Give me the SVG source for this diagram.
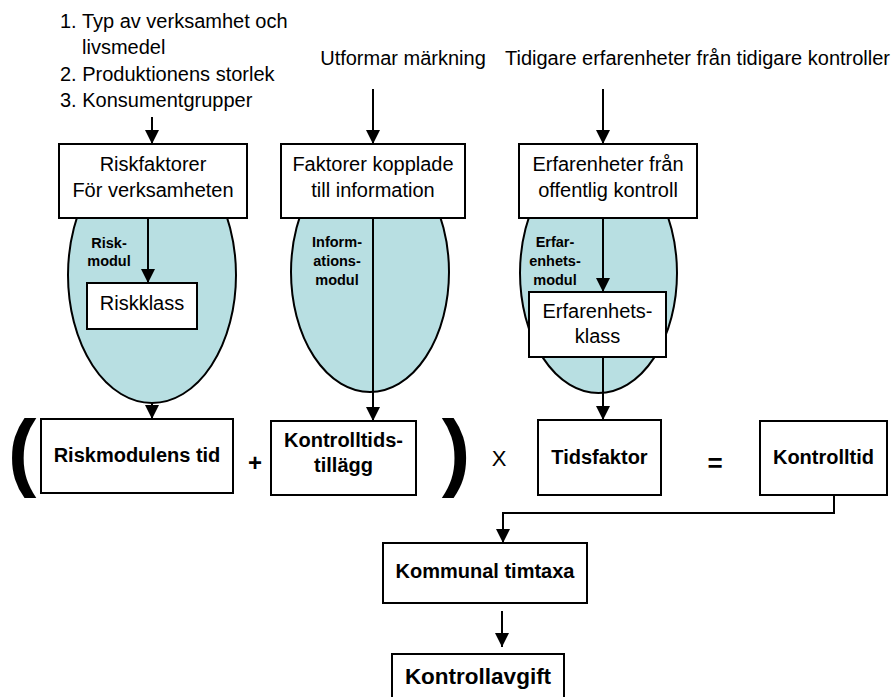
<svg xmlns="http://www.w3.org/2000/svg" width="892" height="697" viewBox="0 0 892 697">
<defs>
<marker id="ah" markerUnits="userSpaceOnUse" markerWidth="14" markerHeight="14" refX="14" refY="7" orient="auto">
<path d="M0,0 L14,7 L0,14 Z" fill="#000"/>
</marker>
<style>
text{font-family:"Liberation Sans",Arial,sans-serif;fill:#000}
.t{font-size:20px}
.c{text-anchor:middle}
.b{font-weight:bold}
.m{font-size:14.5px;font-weight:bold;text-anchor:middle}
.box{fill:#fff;stroke:#000;stroke-width:2}
.mod{fill:#B8DFE2;stroke:#000;stroke-width:2}
.ln{fill:none;stroke:#000;stroke-width:2}
.ar{fill:none;stroke:#000;stroke-width:2;marker-end:url(#ah)}
</style>
</defs>
<rect width="892" height="697" fill="#fff"/>

<g id="inputs">
<text class="t" x="60" y="28">1. Typ av verksamhet och</text>
<text class="t" x="82" y="54">livsmedel</text>
<text class="t" x="60" y="81">2. Produktionens storlek</text>
<text class="t" x="60" y="107">3. Konsumentgrupper</text>
<text class="t c" x="403" y="65">Utformar märkning</text>
<text class="t" x="505" y="65">Tidigare erfarenheter från tidigare kontroller</text>
</g>

<g id="riskmodul">
<ellipse class="mod" cx="152" cy="275" rx="84" ry="128"/>
<text class="m" x="109" y="248">Risk-</text>
<text class="m" x="109" y="266">modul</text>
</g>
<g id="informationsmodul">
<ellipse class="mod" cx="370" cy="272" rx="79" ry="120"/>
<text class="m" x="337" y="247">Inform-</text>
<text class="m" x="337" y="266">ations-</text>
<text class="m" x="337" y="285">modul</text>
</g>
<g id="erfarenhetsmodul">
<ellipse class="mod" cx="598.5" cy="273" rx="78.5" ry="120"/>
<text class="m" x="555" y="247">Erfar-</text>
<text class="m" x="555" y="266">enhets-</text>
<text class="m" x="555" y="285">modul</text>
</g>

<g id="connectors">
<line class="ar" x1="152" y1="117" x2="152" y2="144"/>
<line class="ar" x1="373" y1="89" x2="373" y2="144"/>
<line class="ar" x1="603" y1="89" x2="603" y2="144"/>
<line class="ar" x1="148" y1="218" x2="148" y2="283"/>
<line class="ar" x1="152" y1="403" x2="152" y2="419"/>
<line class="ar" x1="373" y1="218" x2="373" y2="421"/>
<line class="ar" x1="603" y1="218" x2="603" y2="292"/>
<line class="ar" x1="603" y1="357" x2="603" y2="420"/>
<path class="ar" d="M834,495 V513 H503 V543"/>
<line class="ar" x1="502" y1="611" x2="502" y2="647"/>
</g>

<g id="riskfaktorer">
<rect class="box" x="59" y="144" width="188" height="74"/>
<text class="t c" x="153" y="171">Riskfaktorer</text>
<text class="t c" x="153" y="197">För verksamheten</text>
</g>
<g id="faktorer-information">
<rect class="box" x="281" y="144" width="184" height="74"/>
<text class="t c" x="373" y="171">Faktorer kopplade</text>
<text class="t c" x="373" y="197">till information</text>
</g>
<g id="erfarenheter">
<rect class="box" x="519" y="144" width="178" height="74"/>
<text class="t c" x="608" y="171">Erfarenheter från</text>
<text class="t c" x="608" y="197">offentlig kontroll</text>
</g>
<g id="riskklass">
<rect class="box" x="87" y="283" width="110" height="46"/>
<text class="t c" x="142" y="310">Riskklass</text>
</g>
<g id="erfarenhetsklass">
<rect class="box" x="529" y="292" width="137" height="65"/>
<text class="t c" x="597.5" y="318">Erfarenhets-</text>
<text class="t c" x="597.5" y="343">klass</text>
</g>

<g id="formel">
<text x="22" y="480" font-size="86" class="b c">(</text>
<text x="456" y="480" font-size="86" class="b c">)</text>
<text x="255" y="471" font-size="24" class="b c">+</text>
<text x="499" y="466" font-size="22" class="c">X</text>
<text x="715" y="472" font-size="26" class="b c">=</text>
</g>

<g id="riskmodulens-tid">
<rect class="box" x="41" y="419" width="192" height="74"/>
<text class="t b c" x="137" y="462">Riskmodulens tid</text>
</g>
<g id="kontrolltidstillagg">
<rect class="box" x="271" y="421" width="145" height="74"/>
<text class="t b c" x="343.5" y="447">Kontrolltids-</text>
<text class="t b c" x="343.5" y="472">tillägg</text>
</g>
<g id="tidsfaktor">
<rect class="box" x="538" y="420" width="123" height="75"/>
<text class="t b c" x="599.5" y="464">Tidsfaktor</text>
</g>
<g id="kontrolltid">
<rect class="box" x="760" y="421" width="127" height="74"/>
<text class="t b c" x="823.5" y="464">Kontrolltid</text>
</g>
<g id="kommunal-timtaxa">
<rect class="box" x="383" y="543" width="204" height="60"/>
<text class="t b c" x="485" y="578">Kommunal timtaxa</text>
</g>
<g id="kontrollavgift">
<rect class="box" x="392" y="654" width="172" height="60"/>
<text class="b c" font-size="22.5" x="478" y="684">Kontrollavgift</text>
</g>
</svg>
